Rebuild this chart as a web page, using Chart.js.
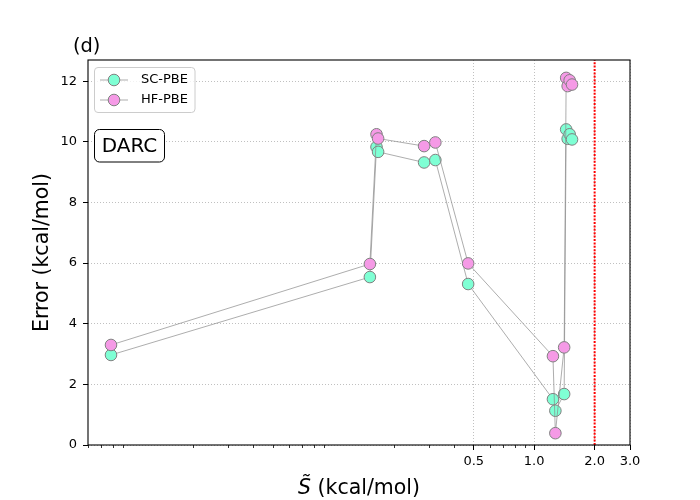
<!DOCTYPE html>
<html><head><meta charset="utf-8">
<script src="https://cdn.jsdelivr.net/npm/chart.js@4/dist/chart.umd.min.js"></script>
<style>html,body{margin:0;padding:0;background:#fff}</style>
</head><body>
<canvas id="c" width="700" height="500"></canvas>
<script>
// ---- data ----
const xValues = [0.00781, 0.152, 0.164, 0.167, 0.283, 0.322, 0.469, 1.24, 1.275, 1.41, 1.443, 1.468, 1.502, 1.543];
const scPbe   = [2.97, 5.54, 9.83, 9.67, 9.32, 9.40, 5.31, 1.51, 1.13, 1.68, 10.41, 10.10, 10.25, 10.08];
const hfPbe   = [3.30, 5.97, 10.25, 10.11, 9.86, 9.98, 5.99, 2.93, 0.39, 3.22, 12.11, 11.84, 12.03, 11.89];
const seriesNames = ['SC-PBE', 'HF-PBE'];
const refLineX = [2.0];
const xMajorTicks = [0.5, 1.0, 2.0, 3.0];
const xTickLabels = ['0.5', '1.0', '2.0', '3.0'];
const xMinorTicks = [0.006, 0.007, 0.008, 0.009, 0.02, 0.03, 0.04, 0.05, 0.06, 0.07, 0.08, 0.09, 0.2, 0.3, 0.4, 0.6, 0.7, 0.8, 0.9];
const yTicks = [0, 2, 4, 6, 8, 10, 12];
const xRange = [0.006, 3.0];
const yRange = [0, 12.7];
const panelTitle = '(d)';
const boxLabel = 'DARC';
const yTitle = 'Error (kcal/mol)';
const xTitleSym = 'S\u0303';
const xTitleRest = ' (kcal/mol)';

const scColor = '#7fffd4';
const hfColor = '#f59ae6';
const FONT = "'DejaVu Sans', sans-serif";
Chart.defaults.font.family = FONT;
Chart.defaults.color = '#000';

const decor = {
  id: 'decor',
  afterDraw(chart) {
    const {ctx, chartArea: a, scales: {x}} = chart;
    ctx.save();
    // spines
    ctx.strokeStyle = '#000'; ctx.lineWidth = 1.1; ctx.setLineDash([]);
    ctx.strokeRect(a.left, a.top, a.right - a.left, a.bottom - a.top);
    // minor ticks
    ctx.lineWidth = 0.8;
    xMinorTicks.forEach(v => {
      const px = Math.round(x.getPixelForValue(v)) + 0.5;
      ctx.beginPath(); ctx.moveTo(px, a.bottom); ctx.lineTo(px, a.bottom + 3); ctx.stroke();
    });
    // title
    ctx.fillStyle = '#000';
    ctx.font = '19.4px ' + FONT; ctx.textAlign = 'left'; ctx.textBaseline = 'alphabetic';
    ctx.fillText(panelTitle, 73, 52);
    // y title
    ctx.save();
    ctx.translate(43, (a.top + a.bottom) / 2);
    ctx.rotate(-Math.PI / 2);
    ctx.font = '20.5px ' + FONT; ctx.textAlign = 'center'; ctx.textBaseline = 'middle';
    ctx.fillText(yTitle, 0, 0);
    ctx.restore();
    // x title
    ctx.font = 'italic 20.5px ' + FONT;
    const w1 = ctx.measureText(xTitleSym).width;
    ctx.font = '20.5px ' + FONT;
    const w2 = ctx.measureText(xTitleRest).width;
    const cx = (a.left + a.right) / 2;
    let sx = cx - (w1 + w2) / 2;
    ctx.textAlign = 'left'; ctx.textBaseline = 'alphabetic';
    ctx.font = 'italic 20.5px ' + FONT;
    ctx.fillText(xTitleSym, sx, 494);
    ctx.font = '20.5px ' + FONT;
    ctx.fillText(xTitleRest, sx + w1, 494);
    // legend
    ctx.beginPath();
    ctx.roundRect(94.5, 67.5, 100.5, 45, 3.5);
    ctx.fillStyle = 'rgba(255,255,255,0.8)'; ctx.fill();
    ctx.strokeStyle = '#cccccc'; ctx.lineWidth = 1; ctx.stroke();
    const cols = [scColor, hfColor];
    [80, 100].forEach((ly, i) => {
      ctx.strokeStyle = '#8a8a8a'; ctx.lineWidth = 0.7;
      ctx.beginPath(); ctx.moveTo(100, ly); ctx.lineTo(128, ly); ctx.stroke();
      ctx.beginPath(); ctx.arc(114, ly, 5.8, 0, Math.PI * 2);
      ctx.fillStyle = cols[i]; ctx.fill();
      ctx.strokeStyle = '#808080'; ctx.lineWidth = 1; ctx.stroke();
      ctx.fillStyle = '#000'; ctx.font = '13px ' + FONT;
      ctx.textAlign = 'left'; ctx.textBaseline = 'middle';
      ctx.fillText(seriesNames[i], 141, ly);
    });
    // DARC box
    ctx.beginPath();
    ctx.roundRect(94.5, 129.5, 70, 32.5, 5);
    ctx.fillStyle = '#fff'; ctx.fill();
    ctx.strokeStyle = '#000'; ctx.lineWidth = 1; ctx.stroke();
    ctx.fillStyle = '#000'; ctx.font = '20px ' + FONT;
    ctx.textAlign = 'center'; ctx.textBaseline = 'middle';
    ctx.fillText(boxLabel, 129.5, 146.5);
    ctx.restore();
  }
};

new Chart(document.getElementById('c'), {
  type: 'line',
  data: {
    datasets: [
      {
        label: seriesNames[0],
        data: xValues.map((x, i) => ({x, y: scPbe[i]})),
        borderColor: '#8a8a8a', borderWidth: 0.7,
        pointRadius: 5.8, pointBackgroundColor: scColor,
        pointBorderColor: '#808080', pointBorderWidth: 1,
        order: 2
      },
      {
        label: seriesNames[1],
        data: xValues.map((x, i) => ({x, y: hfPbe[i]})),
        borderColor: '#8a8a8a', borderWidth: 0.7,
        pointRadius: 5.8, pointBackgroundColor: hfColor,
        pointBorderColor: '#808080', pointBorderWidth: 1,
        order: 1
      },
      {
        label: 'ref',
        data: [{x: refLineX[0], y: yRange[0]}, {x: refLineX[0], y: yRange[1]}],
        borderColor: '#ff0000', borderWidth: 2, borderDash: [2, 1.4],
        pointRadius: 0, order: 3
      }
    ]
  },
  options: {
    responsive: false, animation: false, devicePixelRatio: 1,
    layout: {padding: {left: 0, top: 60, right: 70, bottom: 0}},
    plugins: {legend: {display: false}, tooltip: {enabled: false}},
    scales: {
      x: {
        type: 'logarithmic', min: xRange[0], max: xRange[1],
        afterBuildTicks: s => { s.ticks = xMajorTicks.map(v => ({value: v})); },
        afterFit: s => { s.height = 55; },
        ticks: {callback: (v, i) => xTickLabels[i], autoSkip: false, maxRotation: 0, minRotation: 0,
                color: '#000', font: {size: 13}, padding: 4},
        grid: {color: '#b0b0b0', lineWidth: 0.8, tickColor: '#000', tickLength: 5, tickWidth: 1},
        border: {display: false, dash: [1, 2]}
      },
      y: {
        type: 'linear', min: yRange[0], max: yRange[1],
        afterBuildTicks: s => { s.ticks = yTicks.map(v => ({value: v})); },
        afterFit: s => { s.width = 88; },
        ticks: {callback: (v, i) => String(yTicks[i]), color: '#000', font: {size: 13}, padding: 6},
        grid: {color: '#b0b0b0', lineWidth: 0.8, tickColor: '#000', tickLength: 5, tickWidth: 1},
        border: {display: false, dash: [1, 2]}
      }
    }
  },
  plugins: [decor]
});
</script>
</body></html>
